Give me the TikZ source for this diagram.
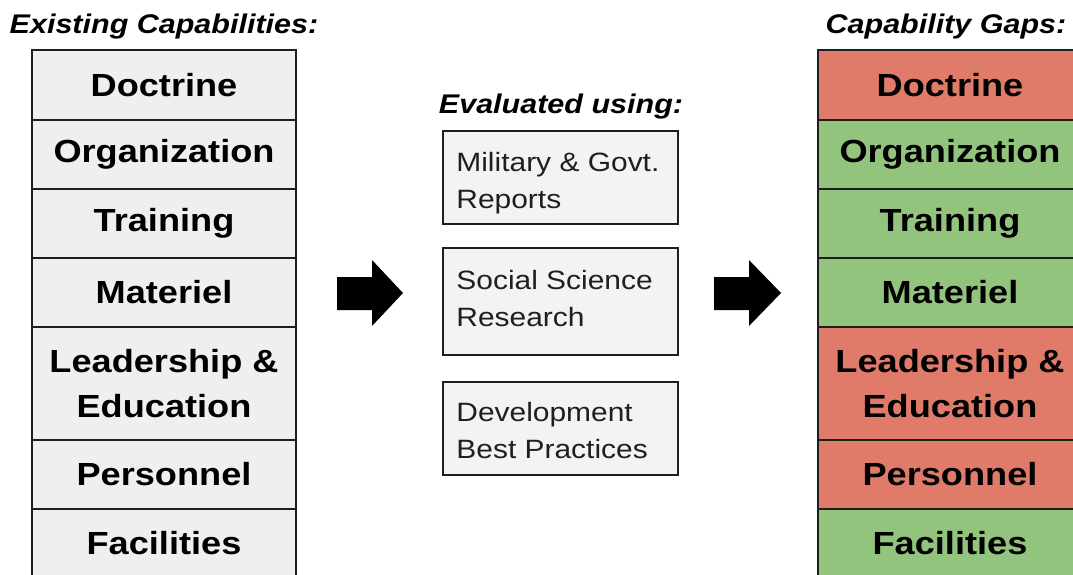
\documentclass[tikz,border=0pt]{standalone}
\usepackage{fontspec}
\setmainfont{Liberation Sans}[FakeStretch=1.13]
\definecolor{cellgray}{HTML}{EFEFEF}
\definecolor{boxgray}{HTML}{F3F3F3}
\definecolor{gapred}{HTML}{E07B6A}
\definecolor{gapgreen}{HTML}{93C47D}
\definecolor{edge}{HTML}{1E1E1E}
\tikzset{
  cell/.style={draw=edge, line width=1.8pt, minimum width=264pt, inner sep=0pt,
    font=\fontsize{32}{45}\selectfont\bfseries, align=center, text=black},
  grayc/.style={cell, fill=cellgray},
  redc/.style={cell, fill=gapred},
  greenc/.style={cell, fill=gapgreen},
  srcbox/.style={draw=edge, line width=1.6pt, fill=boxgray, minimum width=235pt, inner sep=0pt},
  srctext/.style={anchor=base west, inner sep=0pt, align=left,
    font=\fontsize{26.5}{37}\selectfont, text=black!88},
  heading/.style={anchor=base, font=\fontsize{27}{32}\selectfont\bfseries\itshape, inner sep=0pt, text=black},
  bigarrow/.style={fill=black}
}
\begin{document}
\begin{tikzpicture}[x=1pt,y=-1pt]
\clip (0,0) rectangle (1073,574);
\fill[white] (0,0) rectangle (1073,574);

% headings
\node[heading] (hL) at (164,33) {Existing Capabilities:};
\node[heading] (hM) at (561,113) {Evaluated using:};
\node[heading] (hR) at (946,33) {Capability Gaps:};

% left column
\node[grayc, minimum height=70pt] (l1) at (164,85) {Doctrine};
\node[grayc, minimum height=69pt] (l2) at (164,154.5) {Organization};
\node[grayc, minimum height=69pt] (l3) at (164,223.5) {Training};
\node[grayc, minimum height=69pt] (l4) at (164,292.5) {Materiel};
\node[grayc, minimum height=113pt] (l5) at (164,383.5) {Leadership \&\\Education};
\node[grayc, minimum height=69pt] (l6) at (164,474.5) {Personnel};
\node[grayc, minimum height=69pt] (l7) at (164,543.5) {Facilities};

% right column
\node[redc, minimum height=70pt] (r1) at (950,85) {Doctrine};
\node[greenc, minimum height=69pt] (r2) at (950,154.5) {Organization};
\node[greenc, minimum height=69pt] (r3) at (950,223.5) {Training};
\node[greenc, minimum height=69pt] (r4) at (950,292.5) {Materiel};
\node[redc, minimum height=113pt] (r5) at (950,383.5) {Leadership \&\\Education};
\node[redc, minimum height=69pt] (r6) at (950,474.5) {Personnel};
\node[greenc, minimum height=69pt] (r7) at (950,543.5) {Facilities};

% middle boxes (text is top-aligned inside; base = last line)
\node[srcbox, minimum height=93pt] (m1) at (560.5,177.5) {};
\node[srcbox, minimum height=107pt] (m2) at (560.5,301.5) {};
\node[srcbox, minimum height=93pt] (m3) at (560.5,428.5) {};
\node[srctext] (t1) at ([xshift=14pt,yshift=-78pt]m1.north west) {Military \& Govt.\\Reports};
\node[srctext] (t2) at ([xshift=14pt,yshift=-79pt]m2.north west) {Social Science\\Research};
\node[srctext] (t3) at ([xshift=14pt,yshift=-77pt]m3.north west) {Development\\Best Practices};

% block arrows
\fill[bigarrow] (337,277) -- (372,277) -- (372,260) -- (403,293) -- (372,326) -- (372,310) -- (337,310) -- cycle;
\fill[bigarrow] (714,277) -- (749,277) -- (749,260) -- (781,293) -- (749,326) -- (749,310) -- (714,310) -- cycle;
\end{tikzpicture}
\end{document}
